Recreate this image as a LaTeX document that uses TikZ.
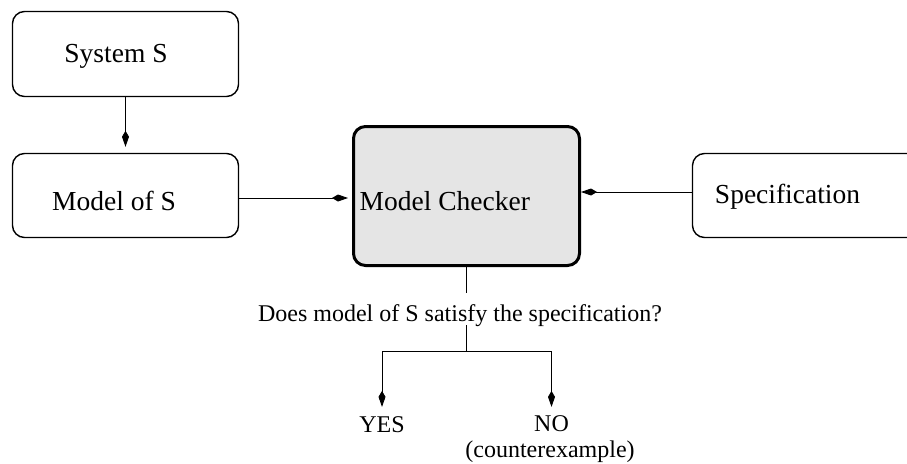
\documentclass[tikz,border=0pt]{standalone}
\usepackage{fontspec}
\setmainfont{Liberation Serif}
\usetikzlibrary{arrows.meta,calc}
\definecolor{mcfill}{RGB}{229,229,229}
\begin{document}
\begin{tikzpicture}[x=1pt,y=-1pt,
  box/.style={draw, line width=1.4pt, rounded corners=12pt, inner sep=0pt},
  mcbox/.style={draw, line width=3pt, rounded corners=12pt, fill=mcfill, inner sep=0pt},
  big/.style={font=\fontsize{27.5}{33}\selectfont, inner sep=0pt, anchor=base},
  small/.style={font=\fontsize{24}{29}\selectfont, inner sep=0pt, anchor=base},
  conn/.style={line width=0.9pt},
  arr/.style={conn, -{Kite[length=16pt,width=7pt,inset=6pt]}}]
\useasboundingbox (0,0) rectangle (907,463);
\clip (0,0) rectangle (907,463);
% boxes
\node[box, minimum width=226pt, minimum height=85pt] (sys) at (125.5,54) {};
\node[box, minimum width=226pt, minimum height=84pt] (mod) at (125.5,195.5) {};
\node[mcbox, minimum width=226pt, minimum height=139pt] (mc) at (466.5,196) {};
\node[box, minimum width=257pt, minimum height=84pt] (spec) at (821,195.5) {};
% labels
\node[big] (sysT) at (116,62) {System S};
\node[big] (modT) at (114,210.5) {Model of S};
\node[big, anchor=base west] (mcT) at (359.5,210) {Model Checker};
\node[big] (specT) at (787.5,203.3) {Specification};
% connectors
\draw[arr, shorten >=6pt] (sys) -- (mod);
\coordinate (a1) at ([yshift=-2.5pt]mod.east);
\draw[arr, shorten >=4pt] (a1) -- (a1 -| mc.west);
\coordinate (a2) at ([yshift=3.5pt]spec.west);
\draw[arr] (a2) -- (a2 -| mc.east);
% bottom
\node[small] (q) at (460,321) {Does model of S satisfy the specification?};
\coordinate (qa) at (466.5,293);
\coordinate (qb) at (466.5,325);
\coordinate (br) at (466.5,351);
\draw[conn] (mc.south) -- (qa);
\draw[conn] (qb) -- (br);
\node[small] (yes) at (382,432) {YES};
\node[small] (no) at (551.5,431) {NO};
\node[small] (ce) at (550,457) {(counterexample)};
\draw[arr, shorten >=9pt] (br) -| (yes.north);
\draw[arr, shorten >=8pt] (br) -| (no.north);
\end{tikzpicture}
\end{document}
